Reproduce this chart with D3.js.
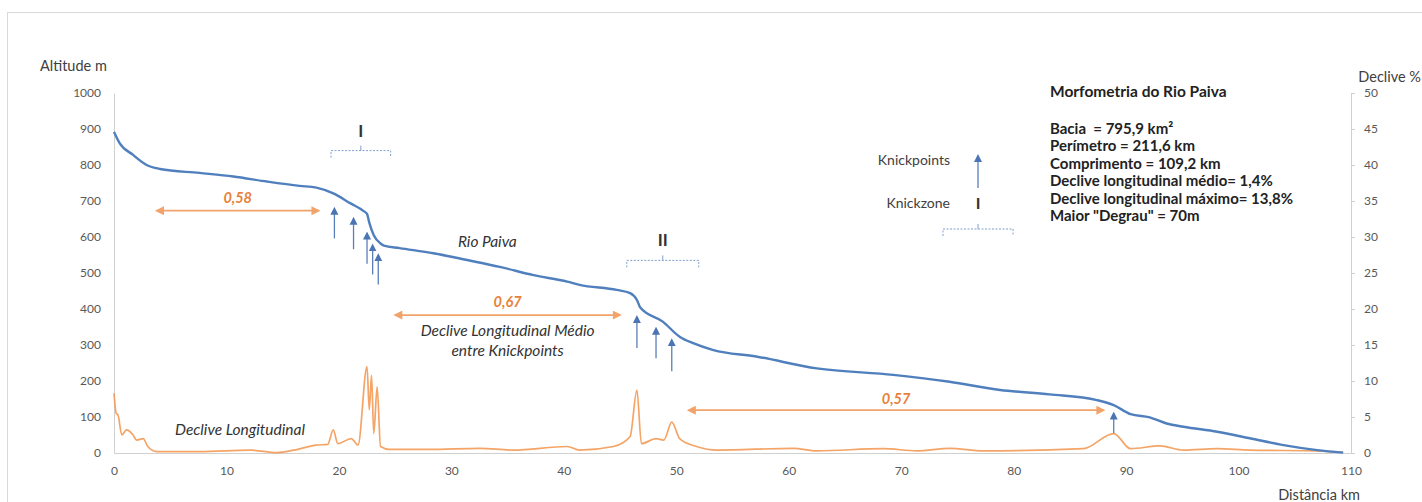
<!DOCTYPE html>
<html><head><meta charset="utf-8">
<script src="https://cdn.jsdelivr.net/npm/d3@7"></script>
<style>
html,body{margin:0;padding:0;background:#fff;}
svg text{font-family:Lato,"Liberation Sans",sans-serif;white-space:pre;}
</style></head>
<body>
<svg id="c" width="1422" height="502"></svg>
<script>
// ---------- DATA ----------
const altitudeKm = [0,0.5,1.7,2.9,4.1,7.6,10.6,13.6,16.5,18.0,19.5,21.0,22.2,22.5,22.7,23.1,23.7,24.0,25.4,28.4,31.4,34.3,37.3,40.3,41.4,44.7,45.9,46.5,46.8,48.8,50.3,51.5,53.3,57.1,62.5,69.3,74.3,78.8,83.2,87.4,88.9,90.4,92.1,93.6,95.1,98.1,101,104,107,109.3];
const altitudeM  = [892,861,828,800,789,778,768,754,742,737,721,694,672,664,640,605,582,576,569,555,536,517,494,476,467,453,444,425,404,365,323,305,286,268,235,217,198,175,163,147,133,108,99,82,73,59,41,22,8,1];

const slopeKm  = [0,0.2,0.35,0.7,1.1,1.7,2.0,2.6,3.0,3.8,7.6,12.1,14.5,16,18,19.0,19.5,19.9,21.1,21.7,22.5,22.7,22.9,23.1,23.4,23.7,24.5,28,32.5,35.5,40.3,41.4,44.4,45.9,46.5,46.9,48.2,48.9,49.6,50.3,51.8,53.6,60.4,62.5,68.4,71.4,74.3,77.3,86.2,88.9,90.4,93.0,95.1,98.1,101,107,109.3];
const slopePct = [8.3,5.5,5.3,2.5,3.2,2.5,1.8,2.0,0.9,0.2,0.2,0.4,0.05,0.4,1.1,1.2,3.2,1.3,2.0,1.1,12.0,6.0,10.8,2.7,9.2,0.9,0.5,0.5,0.65,0.4,0.9,0.4,0.9,2.3,8.75,1.3,2.0,1.8,4.3,2.0,0.9,0.4,0.65,0.3,0.6,0.3,0.65,0.3,0.6,2.7,0.6,1.0,0.4,0.6,0.4,0.3,0.1];

const xTicks = [0,10,20,30,40,50,60,70,80,90,100,110];
const altTicks = [0,100,200,300,400,500,600,700,800,900,1000];
const slopeTicks = [0,5,10,15,20,25,30,35,40,45,50];

// knickpoint arrows: km, top altitude, bottom altitude
const knickKm     = [19.6,21.3,22.5,23.0,23.5,46.5,48.2,49.6,88.9];
const knickTopM   = [684,656,615,582,555,383,351,319,115];
const knickBotM   = [596,566,526,496,468,292,263,227,55];

// mean slope between knickpoints
const meanLabels = ["0,58","0,67","0,57"];
const meanFromKm = [3.8,25.0,51.1];
const meanToKm   = [18.2,45.0,88.0];
const meanAltM   = [673,383,119];
const meanLabelAltM = [694,406,137];

// knickzones
const zoneLabels = ["I","II"];
const zoneFromKm = [19.3,45.6];
const zoneToKm   = [24.6,52.0];
const zoneAltM   = [840,535];

const infoTitle = "Morfometria do Rio Paiva";
const infoLines = ["Bacia  = 795,9 km²","Perímetro = 211,6 km","Comprimento = 109,2 km","Declive longitudinal médio= 1,4%","Declive longitudinal máximo= 13,8%","Maior \"Degrau\" = 70m"];

// ---------- CHART ----------
const svg = d3.select("#c");
const L = 114, R = 1351, T = 93, B = 453;
const x = d3.scaleLinear().domain([0,110]).range([L,R]);
const yA = d3.scaleLinear().domain([0,1000]).range([B,T]);
const yS = d3.scaleLinear().domain([0,50]).range([B,T]);

const blue = "#4f7fbd", orange = "#f39a55", gray = "#595959";

svg.append("rect").attr("x",7.5).attr("y",12.5).attr("width",1430).attr("height",520)
  .attr("fill","#fff").attr("stroke","#d9d9d9");

const defs = svg.append("defs");
defs.append("marker").attr("id","bh").attr("viewBox","0 0 10 10").attr("refX",5).attr("refY",5)
  .attr("markerWidth",8).attr("markerHeight",9).attr("markerUnits","userSpaceOnUse").attr("orient","auto")
  .append("path").attr("d","M0,0 L10,5 L0,10 z").attr("fill","#4a74b4");
defs.append("marker").attr("id","oh").attr("viewBox","0 0 10 10").attr("refX",8).attr("refY",5)
  .attr("markerWidth",10).attr("markerHeight",9).attr("markerUnits","userSpaceOnUse").attr("orient","auto-start-reverse")
  .append("path").attr("d","M0,0 L10,5 L0,10 z").attr("fill","#f2a36b");

// axes
const fmt = d3.format("d");
const axL = svg.append("g").attr("transform",`translate(${L},0)`).call(d3.axisLeft(yA).tickValues(altTicks).tickFormat(fmt).tickSize(0).tickPadding(13));
const axR = svg.append("g").attr("transform",`translate(${R},0)`).call(d3.axisRight(yS).tickValues(slopeTicks).tickFormat(fmt).tickSize(4).tickPadding(9));
const axB = svg.append("g").attr("transform",`translate(0,${B})`).call(d3.axisBottom(x).tickValues(xTicks).tickFormat(fmt).tickSize(0).tickPadding(13));
[axL,axR,axB].forEach(g=>{
  g.select(".domain").attr("stroke","#d0d0d0");
  g.selectAll(".tick line").attr("stroke","#d0d0d0");
  g.selectAll(".tick text").attr("fill",gray).style("font-size","12px").style("font-family","Lato,'Liberation Sans',sans-serif");
});

svg.append("text").attr("x",40).attr("y",71).attr("fill","#404040").style("font-size","14.5px").text("Altitude m");
svg.append("text").attr("x",1421).attr("y",82).attr("text-anchor","end").attr("fill","#404040").style("font-size","14.5px").text("Declive %");
svg.append("text").attr("x",1360).attr("y",500).attr("text-anchor","end").attr("fill","#404040").style("font-size","14.5px").text("Distância km");

// slope line
const slopeData = slopeKm.map((k,i)=>[k,slopePct[i]]);
svg.append("path").datum(slopeData)
  .attr("d",d3.line().x(d=>x(d[0])).y(d=>yS(d[1])).curve(d3.curveMonotoneX))
  .attr("fill","none").attr("stroke",orange).attr("stroke-width",1.7).attr("stroke-opacity",0.9);

// altitude line
const altData = altitudeKm.map((k,i)=>[k,altitudeM[i]]);
svg.append("path").datum(altData)
  .attr("d",d3.line().x(d=>x(d[0])).y(d=>yA(d[1])).curve(d3.curveMonotoneX))
  .attr("fill","none").attr("stroke",blue).attr("stroke-width",2.4);

// knickpoint arrows
knickKm.forEach((k,i)=>{
  svg.append("line").attr("x1",x(k)).attr("x2",x(k)).attr("y1",yA(knickBotM[i])).attr("y2",yA(knickTopM[i])+4)
    .attr("stroke","#5a7fb8").attr("stroke-width",1.3).attr("marker-end","url(#bh)");
});

// mean slope arrows
meanLabels.forEach((lab,i)=>{
  svg.append("line").attr("x1",x(meanFromKm[i])).attr("x2",x(meanToKm[i]))
    .attr("y1",yA(meanAltM[i])).attr("y2",yA(meanAltM[i]))
    .attr("stroke","#f2a36b").attr("stroke-width",1.8)
    .attr("marker-start","url(#oh)").attr("marker-end","url(#oh)");
  svg.append("text").attr("x",(x(meanFromKm[i])+x(meanToKm[i]))/2).attr("y",yA(meanLabelAltM[i]))
    .attr("text-anchor","middle").attr("fill","#e8823a")
    .style("font-size","14.5px").style("font-weight","bold").style("font-style","italic").text(lab);
});

// knickzone brackets
function bracket(x1,x2,yy,lab,labY,size){
  const g = svg.append("g");
  const xm = (x1+x2)/2;
  g.append("path").attr("d",`M${x1},${yy+7} L${x1},${yy} L${x2},${yy} L${x2},${yy+7}`)
    .attr("fill","none").attr("stroke","#7fa0cc").attr("stroke-width",1).attr("stroke-dasharray","2,1.5");
  g.append("line").attr("x1",xm).attr("x2",xm).attr("y1",yy).attr("y2",yy-5).attr("stroke","#7fa0cc").attr("stroke-width",1);
  g.append("text").attr("x",xm).attr("y",labY).attr("text-anchor","middle").attr("fill","#333")
    .style("font-size",size+"px").style("font-weight","bold").text(lab);
}
zoneLabels.forEach((lab,i)=>{
  const yy = yA(zoneAltM[i]);
  bracket(x(zoneFromKm[i]),x(zoneToKm[i]),yy,lab,yy-14,17);
});

// texts in chart
const itStyle = s => s.attr("text-anchor","middle").attr("fill","#333").style("font-size","15.5px").style("font-style","italic");
svg.append("text").attr("x",x(33.2)).attr("y",yA(572)).call(itStyle).text("Rio Paiva");
svg.append("text").attr("x",x(35)).attr("y",yA(325)).call(itStyle).text("Declive Longitudinal Médio");
svg.append("text").attr("x",x(35)).attr("y",yA(270)).call(itStyle).text("entre Knickpoints");
svg.append("text").attr("x",x(11.2)).attr("y",yA(51)).call(itStyle).text("Declive Longitudinal");

// legend
svg.append("text").attr("x",950).attr("y",165).attr("text-anchor","end").attr("fill","#404040").style("font-size","14px").text("Knickpoints");
svg.append("line").attr("x1",978).attr("x2",978).attr("y1",188).attr("y2",158)
  .attr("stroke","#5a7fb8").attr("stroke-width",1.3).attr("marker-end","url(#bh)");
svg.append("text").attr("x",950).attr("y",208).attr("text-anchor","end").attr("fill","#404040").style("font-size","14px").text("Knickzone");
bracket(943,1013,229,"I",209,16);

// info box
svg.append("text").attr("x",1050).attr("y",97).attr("fill","#222").style("font-size","15.5px").style("font-weight","bold").text(infoTitle);
infoLines.forEach((t,i)=>{
  svg.append("text").attr("x",1050).attr("y",134+i*17.4).attr("fill","#222").style("font-size","15px").style("font-weight","bold").text(t);
});
</script>
</body></html>
